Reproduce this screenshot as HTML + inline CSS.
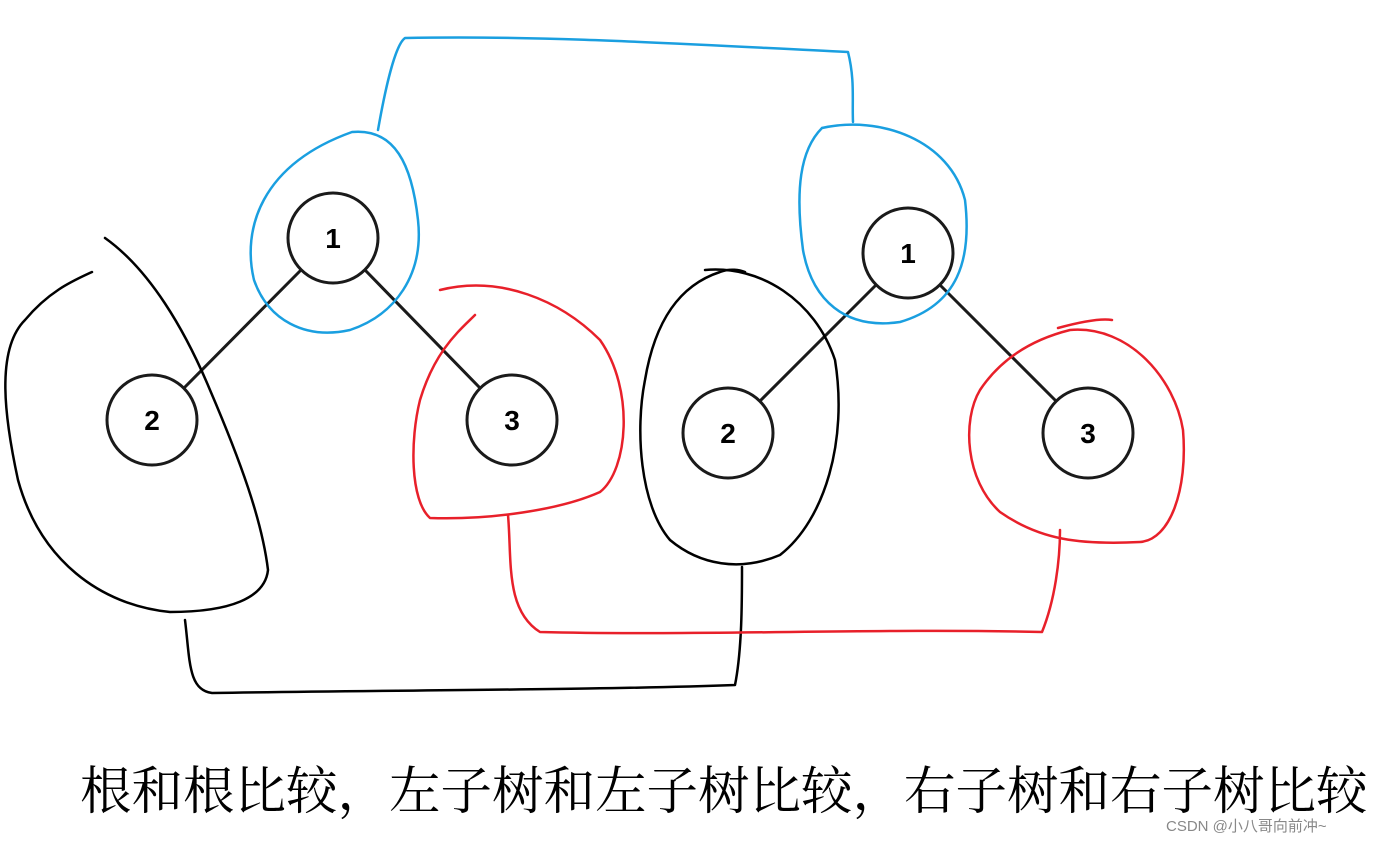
<!DOCTYPE html>
<html><head><meta charset="utf-8"><style>
html,body{margin:0;padding:0;background:#fff;width:1383px;height:845px;overflow:hidden}
svg{position:absolute;left:0;top:0}
.t{position:absolute;left:80px;top:750px;font-family:"Liberation Serif","Noto Serif CJK SC",serif;font-size:51.5px;color:#000;white-space:nowrap;letter-spacing:0px}
.w{position:absolute;left:1166px;top:815px;font-family:"Liberation Sans","Noto Sans CJK SC",sans-serif;font-size:15px;color:#888}
</style></head><body>
<svg width="1383" height="845" viewBox="0 0 1383 845">
<g stroke="#1a1a1a" stroke-width="3" fill="none">
<line x1="301" y1="270" x2="184" y2="388"/><line x1="365" y1="270" x2="480" y2="388"/>
<line x1="876" y1="285" x2="760" y2="401"/><line x1="940" y1="285" x2="1056" y2="401"/>
</g>
<g stroke="#1a1a1a" stroke-width="3" fill="#fff">
<circle cx="333" cy="238" r="45"/><circle cx="152" cy="420" r="45"/><circle cx="512" cy="420" r="45"/>
<circle cx="908" cy="253" r="45"/><circle cx="728" cy="433" r="45"/><circle cx="1088" cy="433" r="45"/>
</g>
<g font-family="Liberation Sans,sans-serif" font-weight="bold" font-size="28" text-anchor="middle">
<text x="333" y="248">1</text><text x="152" y="430">2</text><text x="512" y="430">3</text>
<text x="908" y="263">1</text><text x="728" y="443">2</text><text x="1088" y="443">3</text>
</g>
<g fill="none" stroke-width="2.5" stroke-linecap="round" stroke-linejoin="round">
<path stroke="#1a9fe0" d="M352,132 C395,128 412,165 418,220 C424,275 395,315 350,330 C305,340 268,320 254,280 C242,230 260,165 352,132"/>
<path stroke="#1a9fe0" d="M378,130 C385,90 395,45 405,38 C550,35 700,45 848,52 C855,80 852,100 853,122"/>
<path stroke="#1a9fe0" d="M822,128 C880,115 950,140 965,200 C972,260 958,305 900,322 C845,330 812,300 803,250 C795,190 800,150 822,128"/>
<path stroke="#000" d="M105,238 C150,270 185,330 210,390 C240,460 262,520 268,570 C265,598 230,612 170,612 C100,605 40,560 18,480 C5,420 -5,350 25,320 C50,290 75,280 92,272"/>
<path stroke="#000" d="M185,620 C190,660 188,690 212,693 C400,690 600,690 735,685 C742,650 742,600 742,567"/>
<path stroke="#000" d="M705,270 C760,265 815,300 835,360 C848,440 825,520 780,555 C740,572 700,565 670,540 C640,505 635,430 645,380 C655,320 680,285 720,272 M720,272 C730,268 740,270 745,272"/>
<path stroke="#e8202a" d="M440,290 C500,275 560,300 600,340 C635,390 628,470 600,492 C560,510 490,520 430,518 C410,500 410,440 420,400 C435,350 460,330 475,315"/>
<path stroke="#e8202a" d="M508,515 C512,560 505,610 540,632 C700,636 880,628 1042,632 C1055,600 1060,560 1060,530"/>
<path stroke="#e8202a" d="M1058,328 C1080,322 1100,318 1112,320 M1070,330 C1130,325 1175,380 1183,430 C1188,490 1170,540 1140,542 C1080,545 1040,540 1000,512 C965,480 962,420 980,390 C1000,360 1030,340 1070,330"/>
</g>
</svg>
<div class="t">根和根比较，左子树和左子树比较，右子树和右子树比较</div>
<div class="w">CSDN @小八哥向前冲~</div>
</body></html>
